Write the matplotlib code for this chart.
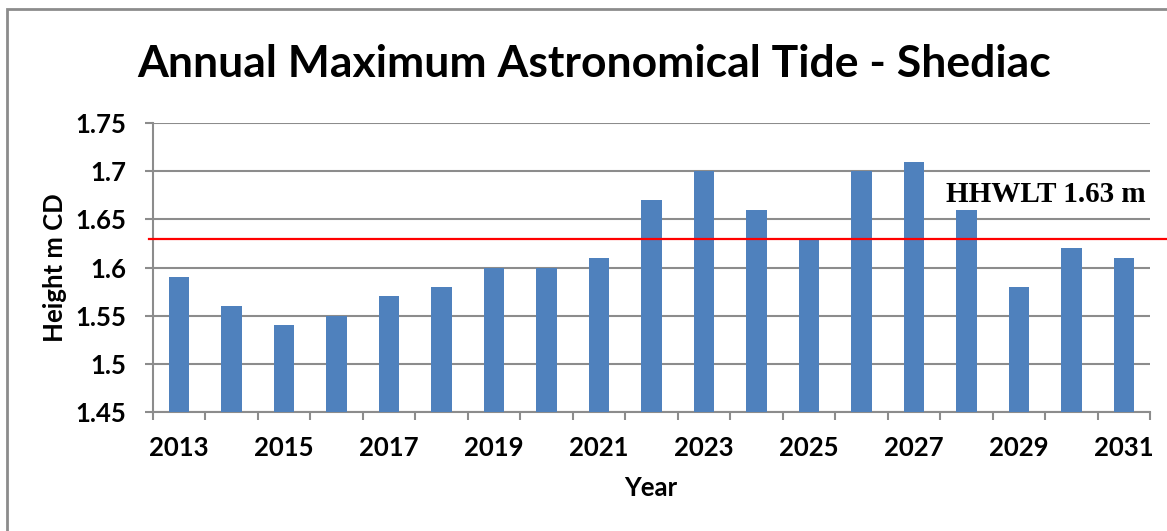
import matplotlib
matplotlib.use("Agg")
import matplotlib.pyplot as plt
from matplotlib.patches import Rectangle

# data
years = list(range(2013, 2032))
heights = [1.59, 1.56, 1.54, 1.55, 1.57, 1.58, 1.60, 1.60, 1.61, 1.67,
           1.70, 1.66, 1.63, 1.70, 1.71, 1.66, 1.58, 1.62, 1.61]
hhwlt = 1.63
y_ticks = [1.45, 1.5, 1.55, 1.6, 1.65, 1.7, 1.75]
y_tick_labels = ["1.45", "1.5", "1.55", "1.6", "1.65", "1.7", "1.75"]

W, H = 1167, 531
fig = plt.figure(figsize=(W / 100, H / 100), dpi=100)
ax = fig.add_axes([153 / W, 1 - 412 / H, (1150 - 153) / W, (412 - 123) / H])

# outer chart frame (runs off the right and bottom edges)
fig.patches.append(Rectangle((7 / W, -0.05), 1.2, 1 - 9 / H + 0.05,
                             transform=fig.transFigure, fill=False,
                             edgecolor="#8c8c8c", linewidth=2))

x = list(range(len(years)))
ax.bar(x, heights, width=0.39, color="#4f81bd", zorder=3)

ax.set_xlim(-0.5, len(years) - 0.5)
ax.set_ylim(1.45, 1.75)
ax.set_yticks(y_ticks)
ax.set_yticklabels(y_tick_labels)
ax.yaxis.grid(True, color="#8c8c8c", linewidth=1.5, zorder=0)

# category labels on every other year, tick marks between categories
ax.set_xticks(x[::2])
ax.set_xticklabels([str(y) for y in years[::2]])
ax.set_xticks([i - 0.5 for i in range(len(years) + 1)], minor=True)
ax.tick_params(axis="x", which="major", length=0, pad=17)
ax.tick_params(axis="x", which="minor", length=6, width=1.5, color="#8c8c8c")
ax.tick_params(axis="y", length=6, width=1.5, color="#8c8c8c", pad=13)

for lab in ax.get_xticklabels() + ax.get_yticklabels():
    lab.set_fontfamily("Lato")
    lab.set_fontweight("bold")
    lab.set_fontsize(18.5)

for side in ["top", "right"]:
    ax.spines[side].set_visible(False)
for side in ["left", "bottom"]:
    ax.spines[side].set_color("#8c8c8c")
    ax.spines[side].set_linewidth(1.5)

# HHWLT reference line, extending past the plot area
ax.axhline(hhwlt, xmin=-0.004, xmax=1.03, color="#ff0000", linewidth=1.6,
           zorder=4, clip_on=False)
ax.text(0.996, 1.6684, "HHWLT 1.63 m", transform=ax.get_yaxis_transform(),
        ha="right", va="baseline", fontsize=21, fontweight="bold",
        fontfamily="Liberation Serif", zorder=5)

ax.set_xlabel("Year", fontsize=18.5, fontweight="bold", fontfamily="Lato")
ax.set_ylabel("Height m CD", fontsize=18.5, fontweight="bold", fontfamily="Lato")
ax.xaxis.set_label_coords(0.4995, -0.222)
ax.yaxis.set_label_coords(-0.086, 0.5)

fig.text(594 / W, 1 - 77 / H, "Annual Maximum Astronomical Tide - Shediac",
         ha="center", va="baseline", fontsize=32, fontweight="bold",
         fontfamily="Lato")

fig.savefig("out.png", dpi=100)
